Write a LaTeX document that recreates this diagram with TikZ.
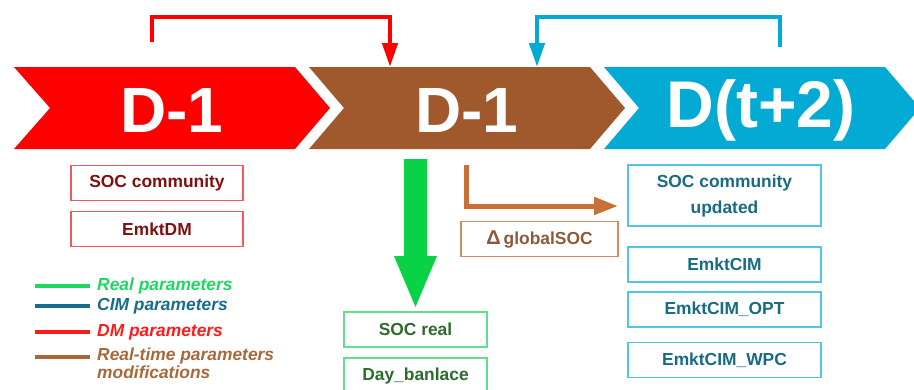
\documentclass[tikz,border=0pt]{standalone}
\usepackage{fontspec}
\setmainfont{Liberation Sans}
\usetikzlibrary{arrows.meta}

\definecolor{chRed}{RGB}{255,0,0}
\definecolor{chBrown}{RGB}{160,89,45}
\definecolor{chBlue}{RGB}{3,170,212}
\definecolor{lnBrown}{RGB}{200,112,56}
\definecolor{bdRed}{RGB}{240,90,90}
\definecolor{txRed}{RGB}{127,16,16}
\definecolor{bdGreen}{RGB}{94,224,140}
\definecolor{txGreen}{RGB}{45,107,45}
\definecolor{bdBlue}{RGB}{79,198,230}
\definecolor{txBlue}{RGB}{23,107,130}
\definecolor{bdBrown}{RGB}{214,140,90}
\definecolor{txBrown}{RGB}{139,90,58}
\definecolor{lgGreen}{RGB}{31,215,96}
\definecolor{lgTeal}{RGB}{23,109,138}
\definecolor{lgRed}{RGB}{255,26,26}
\definecolor{lgBrown}{RGB}{168,104,58}
\definecolor{arGreen}{RGB}{10,210,70}

\tikzset{
  bigtxt/.style={text=white,font=\fontsize{64}{64}\selectfont\bfseries,anchor=base,inner sep=0},
  parbox/.style={draw,line width=1.2,minimum width=#1,minimum height=35,inner sep=0,
     align=center,font=\fontsize{17.4}{26}\selectfont\bfseries},
  redbox/.style={parbox=172,draw=bdRed,text=txRed},
  greenbox/.style={parbox=143,draw=bdGreen,text=txGreen},
  bluebox/.style={parbox=193,draw=bdBlue,text=txBlue},
  lgline/.style={line width=4},
  lgtxt/.style={anchor=west,inner sep=0,align=left,font=\fontsize{17.4}{18}\selectfont\bfseries\itshape},
  bracket/.style={line width=4.5,-{Triangle[length=24,width=15]}},
}

\begin{document}
\begin{tikzpicture}[x=1pt,y=-1pt]
\useasboundingbox (0,0) rectangle (914,389);
\clip (0,0) rectangle (914,389);

% three chevrons of the time line
\fill[chRed]   (14,67) -- (295,67) -- (330,108) -- (295,149) -- (14,149) -- (50,108) -- cycle;
\fill[chBrown] (309,67) -- (590,67) -- (625,108) -- (590,149) -- (309,149) -- (344,108) -- cycle;
\fill[chBlue]  (604,67) -- (885,67) -- (920,108) -- (885,149) -- (604,149) -- (639,108) -- cycle;

\node[bigtxt] (dm)  at (172,132) {D-1};
\node[bigtxt] (rt)  at (467,132) {D-1};
\node[bigtxt,font=\fontsize{66}{66}\selectfont\bfseries] (cim) at (761,127) {D(t+2)};

% feedback brackets above the chevrons
\coordinate (rA) at (152,42);
\coordinate (rB) at (390,67);
\coordinate (bA) at (780,47);
\coordinate (bB) at (537,67);
\draw[bracket,chRed]  (rA) |- (390,17) -- (rB);
\draw[bracket,chBlue] (bA) |- (537,17) -- (bB);

% DM outputs
\node[redbox] (socc) at (157,183) {SOC community};
\node[redbox] (emdm) at (157,229) {EmktDM};

% real-time outputs
\coordinate (gA) at (415.5,159);
\fill[arGreen] (404,159) -- (427,159) -- (427,256) -- (437,256) -- (415.5,307)
   -- (394,256) -- (404,256) -- cycle;
\node[greenbox] (socr) at (415.5,329.5) {SOC real};
\node[greenbox] (dayb) at (415.5,375.5) {Day\_banlace};

\coordinate (oA) at (466,165);
\coordinate (oB) at (618,206);
\draw[lnBrown,line width=5,-{Triangle[length=24,width=17]}] (oA) |- (oB);
\node[parbox=157,draw=bdBrown,text=txBrown] (dsoc) at (539.5,239)
   {{\fontsize{20}{20}\selectfont Δ}\,globalSOC};

% CIM outputs
\node[bluebox,minimum height=61] (socu) at (724.5,195.5) {SOC community\\updated};
\node[bluebox] (emc)  at (724.5,264.5) {EmktCIM};
\node[bluebox] (emco) at (724.5,309.5) {EmktCIM\_OPT};
\node[bluebox] (emcw) at (724.5,360) {EmktCIM\_WPC};

% legend
\draw[lgline,lgGreen] (35,286) -- (90,286);
\node[lgtxt,text=lgGreen] (lg1) at (97,286) {Real parameters};
\draw[lgline,lgTeal] (35,306) -- (90,306);
\node[lgtxt,text=lgTeal] (lg2) at (97,306) {CIM parameters};
\draw[lgline,lgRed] (35,332) -- (90,332);
\node[lgtxt,text=lgRed] (lg3) at (97,332) {DM parameters};
\draw[lgline,lgBrown] (35,357) -- (90,357);
\node[lgtxt,text=lgBrown,anchor=north west] (lg4) at (97,348) {Real-time parameters\\modifications};
\end{tikzpicture}
\end{document}
